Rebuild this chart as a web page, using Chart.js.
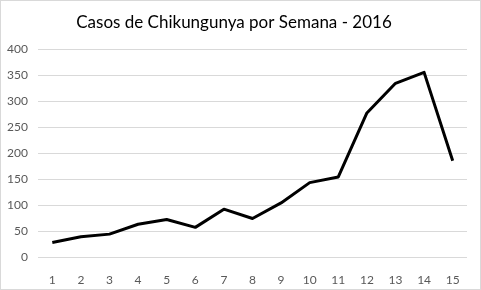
<!DOCTYPE html>
<html>
<head>
<meta charset="utf-8">
<script src="https://cdn.jsdelivr.net/npm/chart.js@4/dist/chart.umd.min.js"></script>
<style>
  html, body { margin: 0; padding: 0; background: #fff; }
  #wrap { width: 481px; height: 290px; box-sizing: border-box; border: 1px solid #d9d9d9; }
</style>
</head>
<body>
<div id="wrap"><canvas id="chart" width="479" height="288"></canvas></div>
<script>
// semanas epidemiológicas
const semanas = ['1', '2', '3', '4', '5', '6', '7', '8', '9', '10', '11', '12', '13', '14', '15'];
// casos por semana
const casos = [28, 39, 44, 63, 72, 57, 92, 74, 104, 143, 154, 277, 334, 355, 185];
const yTicks = [0, 50, 100, 150, 200, 250, 300, 350, 400];

const ctx = document.getElementById('chart').getContext('2d');

new Chart(ctx, {
    type: 'line',
    data: {
        labels: semanas,
        datasets: [{
            label: 'Casos',
            data: casos,
            borderColor: '#000',
            borderWidth: 3,
            borderJoinStyle: 'round',
            pointRadius: 0,
            fill: false,
            tension: 0
        }]
    },
    options: {
        responsive: false,
        animation: false,
        layout: { padding: { left: 0, right: 13, top: 0, bottom: 0 } },
        plugins: {
            legend: { display: false },
            tooltip: { enabled: false },
            title: {
                display: true,
                text: 'Casos de Chikungunya por Semana - 2016',
                color: '#000',
                font: { family: 'Lato', size: 17, weight: 'normal' },
                padding: { top: 11, bottom: 16.6 }
            }
        },
        scales: {
            x: {
                offset: true,
                grid: { display: false },
                border: { display: false },
                ticks: { color: '#595959', font: { family: 'Lato', size: 12 }, padding: 8, maxRotation: 0 },
                afterFit: (scale) => { scale.height = 32; }
            },
            y: {
                min: 0,
                max: 400,
                afterBuildTicks: (scale) => { scale.ticks = yTicks.map(v => ({ value: v })); },
                grid: { color: '#d9d9d9', drawTicks: false },
                border: { display: false },
                ticks: { color: '#595959', font: { family: 'Lato', size: 12 }, padding: 10 },
                afterFit: (scale) => { scale.width = 37; }
            }
        }
    }
});
</script>
</body>
</html>
